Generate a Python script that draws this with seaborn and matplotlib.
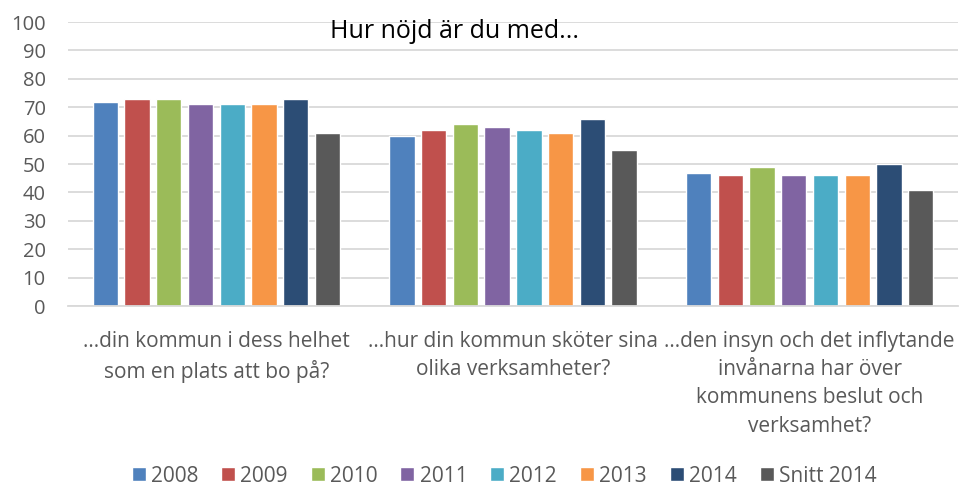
import matplotlib
matplotlib.use('Agg')
import matplotlib.pyplot as plt
import pandas as pd
import seaborn as sns

categories = ['\u2026din kommun i dess helhet\nsom en plats att bo på?',
              '\u2026hur din kommun sköter sina\nolika verksamheter?',
              '\u2026den insyn och det inflytande\ninvånarna har över\nkommunens beslut och\nverksamhet?']
series = ['2008', '2009', '2010', '2011', '2012', '2013', '2014', 'Snitt 2014']
values = {
    '2008': [72, 60, 47],
    '2009': [73, 62, 46],
    '2010': [73, 64, 49],
    '2011': [71, 63, 46],
    '2012': [71, 62, 46],
    '2013': [71, 61, 46],
    '2014': [73, 66, 50],
    'Snitt 2014': [61, 55, 41],
}
colors = ['#4F81BD', '#C0504D', '#9BBB59', '#8064A2', '#4BACC6', '#F79646', '#2C4D75', '#595959']

rows = []
for s in series:
    for c, v in zip(categories, values[s]):
        rows.append({'fraga': c, 'serie': s, 'varde': v})
df = pd.DataFrame(rows)

sns.set_style('white')
plt.rcParams['font.family'] = ['Open Sans', 'DejaVu Sans']

fig = plt.figure(figsize=(9.7, 4.88), dpi=100)
ax = fig.add_axes([68/970, 1 - 306/488, (958-68)/970, (306-22)/488])

sns.barplot(data=df, x='fraga', y='varde', hue='serie', order=categories, hue_order=series,
            palette=colors, width=0.855, gap=0.2, saturation=1, ax=ax, legend=True)

ax.set_ylim(0, 100)
ax.set_yticks(range(0, 101, 10))
ax.yaxis.grid(True, color='#D9D9D9', linewidth=1.3)
ax.set_axisbelow(True)
for sp in ['top', 'right', 'left']:
    ax.spines[sp].set_visible(False)
ax.spines['bottom'].set_color('#D9D9D9')
ax.spines['bottom'].set_linewidth(1.3)
ax.tick_params(axis='y', length=0, labelsize=14.5, labelcolor='#595959', pad=16)
ax.tick_params(axis='x', length=0, labelsize=15, labelcolor='#595959', pad=18)
for lbl in ax.get_xticklabels():
    lbl.set_linespacing(1.45)
    lbl.set_verticalalignment('top')
ax.set_xlabel('')
ax.set_ylabel('')

fig.text(455/970, 1 - 32/488, 'Hur nöjd är du med...', ha='center', va='center', fontsize=18, color='black')

handles, labels = ax.get_legend_handles_labels()
ax.legend(handles, labels, loc='center', bbox_to_anchor=(504/970, 1 - 476/488),
          bbox_transform=fig.transFigure, ncol=8, frameon=False, fontsize=15,
          labelcolor='#595959', handlelength=0.67, handleheight=0.67, handletextpad=0.25,
          columnspacing=1.1, borderpad=0)

fig.savefig('out.png', dpi=100)
